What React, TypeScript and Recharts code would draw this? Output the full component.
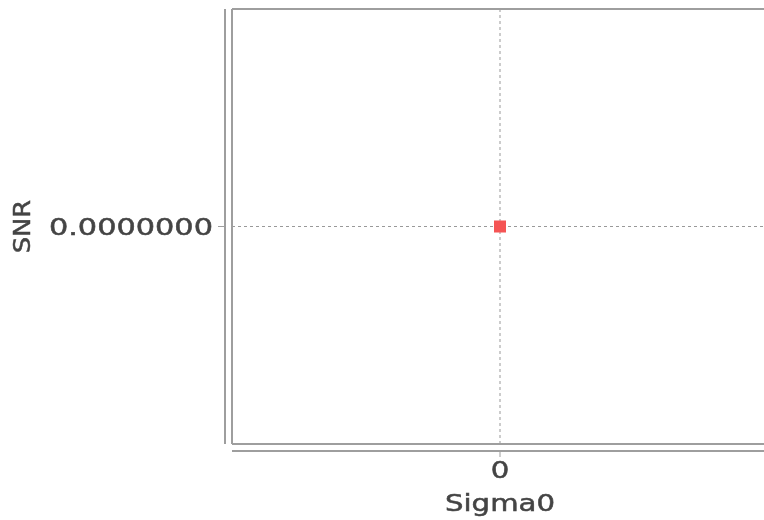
import { ScatterChart, Scatter, XAxis, YAxis, CartesianGrid, ReferenceLine } from 'recharts'

const sigma0 = [0]
const snr = [0]
const xTicks = [0]
const yTicks = [0]
const domain: [number, number] = [-1, 1]

const points = sigma0.map((s, i) => ({ sigma0: s, snr: snr[i] }))

const FONT = '"DejaVu Sans", Verdana, sans-serif'
const TEXT = '#444'
const LINE = '#9e9e9e'
const STRETCH = 1.27

// the reference text is a touch heavier than DejaVu regular
const textStyle = { fontFamily: FONT, fontSize: 23, fill: TEXT, stroke: TEXT, strokeWidth: 0.5 }

function XTick({ x, y, payload }: any) {
  return (
    <text transform={`translate(${x},${y}) scale(${STRETCH},1)`} textAnchor="middle" dominantBaseline="central" {...textStyle}>
      {payload.value}
    </text>
  )
}

function YTick({ x, y, payload }: any) {
  return (
    <text transform={`translate(${x},${y}) scale(1.32,1)`} textAnchor="end" dominantBaseline="central" {...textStyle}>
      {Number(payload.value).toFixed(7)}
    </text>
  )
}

function XLabel({ viewBox }: any) {
  const cx = viewBox.x + viewBox.width / 2
  return (
    <text transform={`translate(${cx},${viewBox.y + 59}) scale(${STRETCH},1)`} textAnchor="middle" dominantBaseline="central" {...textStyle}>
      Sigma0
    </text>
  )
}

function YLabel({ viewBox }: any) {
  const cy = viewBox.y + viewBox.height / 2
  return (
    <text transform={`translate(${viewBox.x + 14},${cy}) rotate(-90) scale(1.12,1)`} textAnchor="middle" dominantBaseline="central" {...textStyle}>
      SNR
    </text>
  )
}

function Square({ cx, cy }: any) {
  return <rect x={cx - 6} y={cy - 6} width={12} height={12} fill="#f55454" />
}

export default function App() {
  return (
    <div style={{ position: 'fixed', top: 8, left: 8, width: 756, height: 512, overflow: 'hidden' }}>
      <ScatterChart width={760} height={512} margin={{ top: 1, right: 0, bottom: 0, left: 0 }}>
        <CartesianGrid stroke="#999" strokeDasharray="3 3" />
        <XAxis type="number" dataKey="sigma0" domain={domain} ticks={xTicks} height={76}
          axisLine={{ stroke: LINE, strokeWidth: 2, transform: 'translate(0,7)' }}
          tickLine={{ stroke: LINE, strokeWidth: 1, transform: 'translate(0,7)' }}
          tickSize={6} tickMargin={20} tick={<XTick />} label={<XLabel />} />
        <YAxis type="number" dataKey="snr" domain={domain} ticks={yTicks} width={224}
          axisLine={{ stroke: LINE, strokeWidth: 2, transform: 'translate(-7,0)' }}
          tickLine={{ stroke: LINE, strokeWidth: 1, transform: 'translate(-7,0)' }}
          tickSize={7} tickMargin={12} tick={<YTick />} label={<YLabel />} />
        <ReferenceLine x={-1} stroke={LINE} strokeWidth={2} />
        <ReferenceLine x={1} stroke={LINE} strokeWidth={2} />
        <ReferenceLine y={-1} stroke={LINE} strokeWidth={2} />
        <ReferenceLine y={1} stroke={LINE} strokeWidth={2} />
        <Scatter data={points} shape={<Square />} isAnimationActive={false} />
      </ScatterChart>
    </div>
  )
}
